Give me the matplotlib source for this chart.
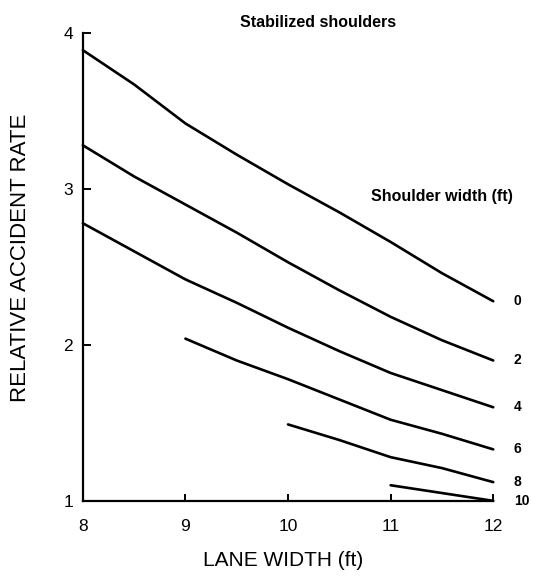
import matplotlib.pyplot as plt

plt.rcParams["font.family"] = ["Liberation Sans", "DejaVu Sans"]

# shoulder width (ft) -> (lane widths, relative accident rate)
SHOULDER_WIDTHS = ["0", "2", "4", "6", "8", "10"]
LANE_0 = [8, 8.5, 9, 9.5, 10, 10.5, 11, 11.5, 12]
RATE_0 = [3.89, 3.67, 3.42, 3.22, 3.03, 2.85, 2.66, 2.46, 2.28]
LANE_2 = [8, 8.5, 9, 9.5, 10, 10.5, 11, 11.5, 12]
RATE_2 = [3.28, 3.08, 2.90, 2.72, 2.53, 2.35, 2.18, 2.03, 1.90]
LANE_4 = [8, 8.5, 9, 9.5, 10, 10.5, 11, 11.5, 12]
RATE_4 = [2.78, 2.60, 2.42, 2.27, 2.11, 1.96, 1.82, 1.71, 1.60]
LANE_6 = [9, 9.5, 10, 10.5, 11, 11.5, 12]
RATE_6 = [2.04, 1.90, 1.78, 1.65, 1.52, 1.43, 1.33]
LANE_8 = [10, 10.5, 11, 11.5, 12]
RATE_8 = [1.49, 1.39, 1.28, 1.21, 1.12]
LANE_10 = [11, 12]
RATE_10 = [1.10, 1.00]

X_TICKS = [8, 9, 10, 11, 12]
Y_TICKS = [1, 2, 3, 4]

curves = [
    (LANE_0, RATE_0),
    (LANE_2, RATE_2),
    (LANE_4, RATE_4),
    (LANE_6, RATE_6),
    (LANE_8, RATE_8),
    (LANE_10, RATE_10),
]

fig = plt.figure(figsize=(5.45, 5.79), dpi=100)
ax = fig.add_axes([0.152, 0.135, 0.753, 0.808])

for (xs, ys), label in zip(curves, SHOULDER_WIDTHS):
    ax.plot(xs, ys, color="black", lw=1.9, solid_capstyle="round", clip_on=False)
    ax.text(12.2, ys[-1], label, ha="left", va="center",
            fontsize=10, fontweight="bold", color="black")

ax.set_xlim(8, 12)
ax.set_ylim(1, 4)
ax.set_xticks(X_TICKS)
ax.set_yticks(Y_TICKS)
ax.set_xticklabels([str(t) for t in X_TICKS])
ax.set_yticklabels([str(t) for t in Y_TICKS])

for side in ("top", "right"):
    ax.spines[side].set_visible(False)
for side in ("left", "bottom"):
    ax.spines[side].set_linewidth(1.6)

ax.tick_params(axis="y", direction="in", length=6, width=1.4, pad=7, labelsize=12.5)
ax.tick_params(axis="x", direction="in", length=5, width=1.4, pad=13, labelsize=12.5)

ax.set_xlabel("LANE WIDTH (ft)", fontsize=15)
ax.xaxis.set_label_coords(0.487, -0.108)
ax.set_ylabel("RELATIVE ACCIDENT RATE", fontsize=16)
ax.yaxis.set_label_coords(-0.127, 0.52)

fig.text(0.584, 0.962, "Stabilized shoulders", ha="center", va="center",
         fontsize=11.5, fontweight="bold")
fig.text(0.811, 0.661, "Shoulder width (ft)", ha="center", va="center",
         fontsize=11.5, fontweight="bold")

fig.savefig("out.png", dpi=100, facecolor="white")
